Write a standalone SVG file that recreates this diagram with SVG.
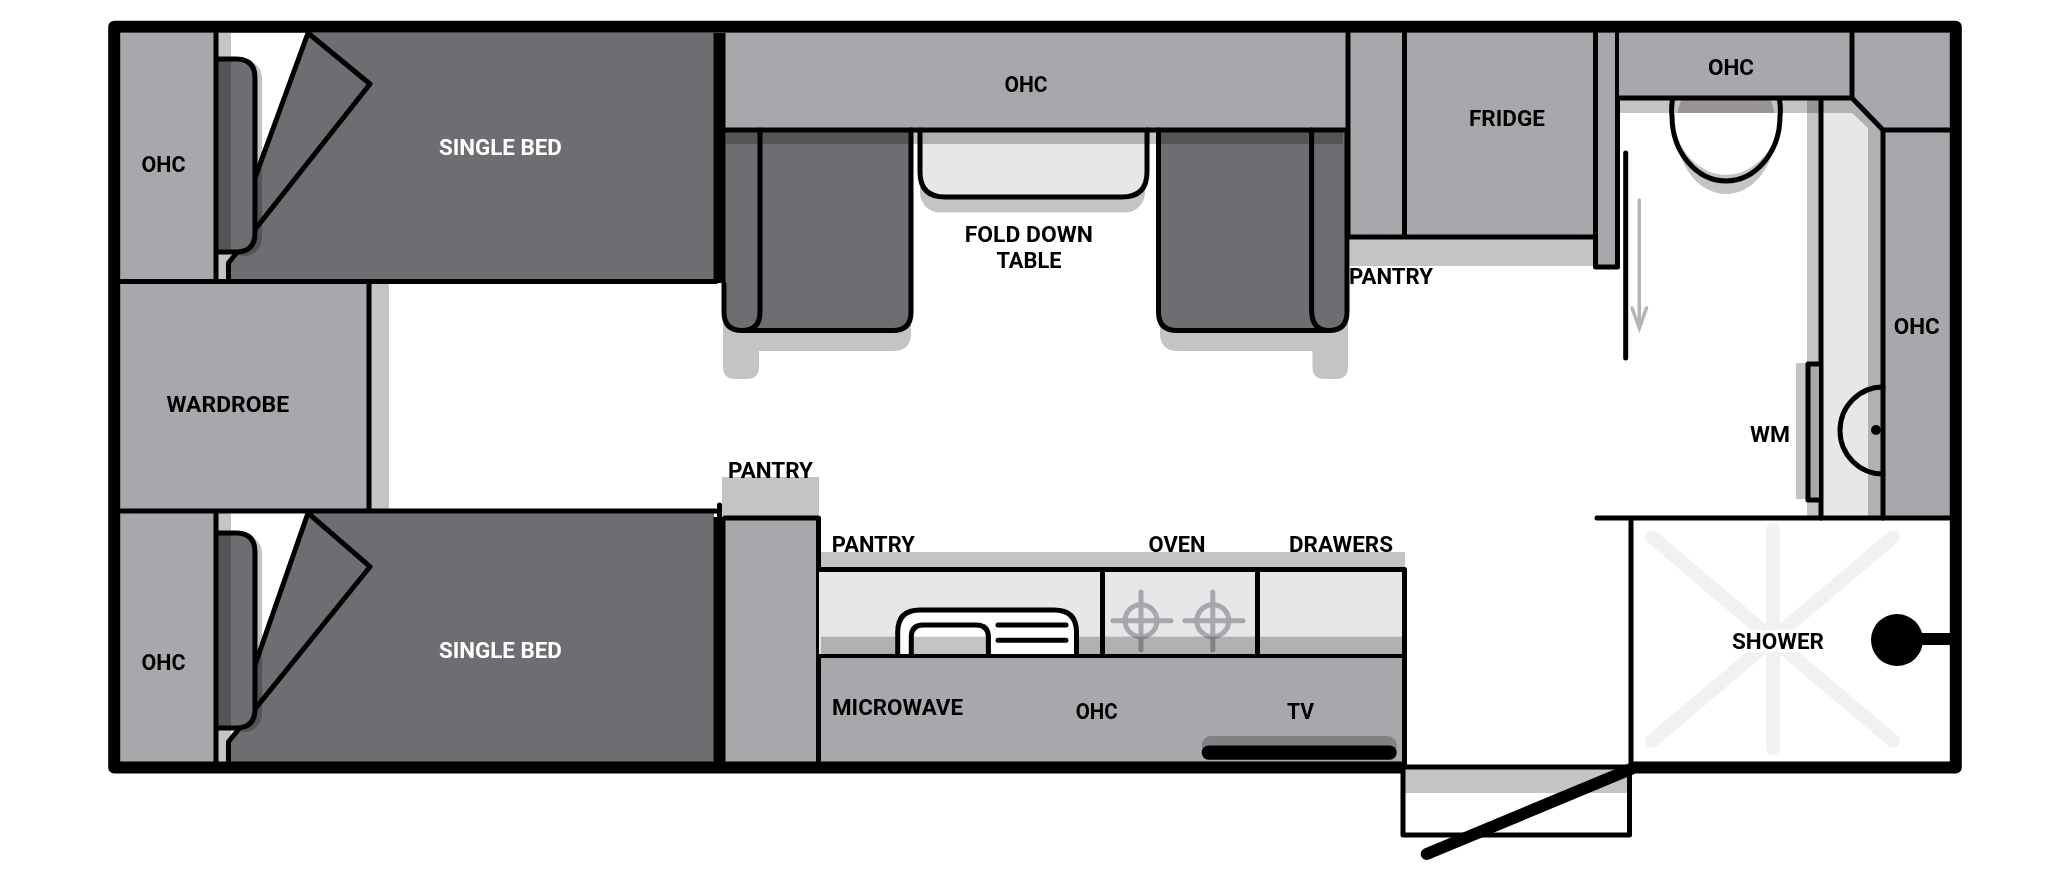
<svg xmlns="http://www.w3.org/2000/svg" width="2048" height="871" viewBox="0 0 2048 871">
<style>
.ohc{fill:#a7a8ac}.dark{fill:#6d6e71}.light{fill:#e6e7e9}.sh{fill:#c6c3c3}
.mul{fill:#c6c3c3;mix-blend-mode:multiply}
.ln{fill:none;stroke:#000;stroke-width:5;stroke-linejoin:round;stroke-linecap:round}
.burner{fill:none;stroke:#a7a8ac;stroke-width:5;stroke-linecap:round}
.wall{fill:none;stroke:#000;stroke-width:12;stroke-linejoin:round}
text{font-family:"Roboto","Liberation Sans",sans-serif;font-weight:700;font-size:22.5px;text-anchor:middle;fill:#000}
text.w{fill:#fff}
</style>
<rect width="2048" height="871" fill="#fff"/>

<g id="floor-shadows">
<rect class="sh" x="218" y="33" width="13" height="246"/>
<rect class="sh" x="218" y="513" width="13" height="249"/>
<rect class="sh" x="371" y="284" width="18" height="226"/>
<path class="sh" d="M723 300H911V333Q911 351 893 351H759V367Q759 379 747 379H735Q723 379 723 367Z"/>
<path class="sh" d="M1160 300H1348V367Q1348 379 1336 379H1324Q1312.500 379 1312.500 367V351H1178Q1160 351 1160 333Z"/>
<rect class="sh" x="920" y="140" width="225" height="72.500" rx="20"/>
<rect class="sh" x="1350" y="238" width="245" height="28"/>
<rect class="sh" x="722" y="477" width="97" height="41"/>
<rect class="sh" x="820" y="552" width="585" height="17"/>
<rect class="sh" x="1405" y="769" width="222" height="24"/>
<rect class="sh" x="1796" y="363" width="11" height="136"/>
<ellipse class="sh" cx="1726" cy="129" rx="50" ry="65"/>
</g>

<g id="bed-top">
<path class="dark" d="M308 33H714V279H228.500V263L255 230V178Z"/>
<path class="dark" d="M308 33L370 84L255 226V170Z"/>
<path class="ln" d="M308 33L255 178M308 33L370 84L228.500 263V279"/>
<rect class="mul" x="225" y="60" width="37" height="196" rx="18"/>
<path class="dark" d="M218 58.900H236Q255 58.900 255 78V233Q255 252 236 252H218Z"/>
<rect class="mul" x="218" y="61" width="13" height="189"/>
<path class="ln" d="M218 58.900H236Q255 58.900 255 78V233Q255 252 236 252H218"/>
<text class="w" x="500.400" y="155" textLength="123" lengthAdjust="spacingAndGlyphs">SINGLE BED</text>
</g>

<g id="bed-bottom">
<path class="dark" d="M308 513H714V763H228.500V742L255 709V665Z"/>
<path class="dark" d="M308 513L370 566.700L255 709V660Z"/>
<path class="ln" d="M308 513L255 665M308 513L370 566.700L228.500 741.700V763"/>
<rect class="mul" x="225" y="535" width="37" height="197" rx="18"/>
<path class="dark" d="M218 533H236Q255 533 255 552V709Q255 728 236 728H218Z"/>
<rect class="mul" x="218" y="535" width="13" height="191"/>
<path class="ln" d="M218 533H236Q255 533 255 552V709Q255 728 236 728H218"/>
<text class="w" x="500.400" y="658" textLength="123" lengthAdjust="spacingAndGlyphs">SINGLE BED</text>
</g>

<g id="ohc-left-top">
<rect class="ohc" x="120" y="33" width="96" height="248"/>
<text x="163.500" y="171.500" textLength="44" lengthAdjust="spacingAndGlyphs">OHC</text>
</g>
<g id="ohc-left-bottom">
<rect class="ohc" x="120" y="511" width="96" height="252"/>
<text x="163.500" y="670" textLength="44" lengthAdjust="spacingAndGlyphs">OHC</text>
</g>
<g id="wardrobe">
<rect class="ohc" x="120" y="281" width="249" height="230"/>
<text x="227.800" y="412" textLength="122.500" lengthAdjust="spacingAndGlyphs">WARDROBE</text>
</g>

<g id="ohc-top">
<rect class="ohc" x="725" y="33" width="623" height="97"/>
<text x="1026" y="92.300" textLength="43" lengthAdjust="spacingAndGlyphs">OHC</text>
</g>
<g id="dinette-left">
<path class="dark" d="M724 130V312Q724 330.500 742 330.500H893Q911 330.500 911 312V130Z"/>
<path class="ln" d="M724 284V312Q724 330.500 742 330.500H893Q911 330.500 911 312V130M760 130V312Q760 330.500 742 330.500"/>
</g>
<g id="dinette-right">
<path class="dark" d="M1158.500 130V312Q1158.500 330.500 1177 330.500H1329Q1347 330.500 1347 312V130Z"/>
<path class="ln" d="M1158.500 130V312Q1158.500 330.500 1177 330.500H1329Q1347 330.500 1347 312V130M1311.600 130V310Q1311.600 330.500 1329 330.500"/>
</g>
<g id="table">
<path class="light" d="M920 130V172Q920 197 945 197H1122Q1147 197 1147 172V130Z"/>
<path class="ln" d="M920 130V172Q920 197 945 197H1122Q1147 197 1147 172V130"/>
<text x="1028.800" y="241.700" textLength="128" lengthAdjust="spacingAndGlyphs">FOLD DOWN</text>
<text x="1029" y="268" textLength="65" lengthAdjust="spacingAndGlyphs">TABLE</text>
</g>
<rect class="mul" x="726" y="132" width="617" height="12"/>
<line class="ln" x1="724" y1="130" x2="1348" y2="130"/>

<g id="fridge">
<rect class="ohc" x="1350" y="33" width="245" height="204"/>
<path class="ln" d="M1348 33V237H1595M1404.500 33V237"/>
<text x="1507" y="125.500" textLength="76" lengthAdjust="spacingAndGlyphs">FRIDGE</text>
</g>
<g id="pantry-fridge"><text x="1391" y="283.500" textLength="84" lengthAdjust="spacingAndGlyphs">PANTRY</text></g>
<g id="pillar">
<rect class="ohc" x="1595" y="33" width="22.500" height="234"/>
<path class="ln" d="M1595.500 33V267H1617.500V33"/>
</g>

<g id="corridor">
<path class="light" d="M1821 98H1852L1883 130V518H1821Z"/>
<path class="mul" d="M1619 100H1852L1881 130V516H1868V128L1852 113H1619Z"/>
<rect class="mul" x="1807" y="100" width="12" height="416"/>
</g>
<g id="toilet">
<path d="M1672.500 113V116A54 65 0 0 0 1780 116V113Z" fill="#fff"/>
<path class="ln" d="M1672.500 100Q1671 108 1672 116A54 65 0 0 0 1780 116Q1781 108 1779.500 100"/>
</g>
<g id="ohc-washroom">
<rect class="ohc" x="1619" y="33" width="233" height="65"/>
<path class="ohc" d="M1852 33H1950V130H1883L1852 98Z"/>
<rect class="ohc" x="1883" y="130" width="67" height="386"/>
<path class="ln" d="M1617.500 98H1852L1883 130H1950M1852 33V98M1821 98V518M1883 130V518"/>
<text x="1731" y="75" textLength="46" lengthAdjust="spacingAndGlyphs">OHC</text>
<text x="1916.700" y="333.500" textLength="46" lengthAdjust="spacingAndGlyphs">OHC</text>
</g>
<g id="sliding-door">
<line class="ln" x1="1625.700" y1="153" x2="1625.700" y2="358"/>
<path d="M1639.300 200V328M1632 308L1639.300 328L1646.500 308" fill="none" stroke="#b3b5b8" stroke-width="3.500" stroke-linecap="round"/>
</g>
<g id="wm">
<rect class="ohc" x="1808" y="364" width="11" height="136"/>
<path class="ln" d="M1819 364H1808V500H1819"/>
<text x="1770" y="442" textLength="40" lengthAdjust="spacingAndGlyphs">WM</text>
</g>
<g id="basin">
<path class="ln" d="M1883 387A43 43.500 0 0 0 1883 474"/>
<circle cx="1876" cy="430" r="5"/>
</g>

<g id="pantry-tall">
<rect class="ohc" x="725" y="518" width="94" height="245"/>
<path class="ln" d="M725 518H818.500V763"/>
<text x="770.500" y="478" textLength="85" lengthAdjust="spacingAndGlyphs">PANTRY</text>
</g>

<g id="kitchen">
<rect class="light" x="819" y="569" width="586" height="87"/>
<g class="burner">
<ellipse cx="1141" cy="620.700" rx="16" ry="16"/><path d="M1113 620.700H1171M1141 592V650"/>
<ellipse cx="1212.800" cy="620.700" rx="16" ry="16"/><path d="M1185 620.700H1243M1212.800 592V650"/>
</g>
<rect class="mul" x="821" y="636.700" width="582" height="18"/>
<path d="M897.700 656V632Q897.700 610 920 610H1054Q1076.500 610 1076.500 632V656Z" fill="#fff"/>
<path class="sh" d="M911.300 636.700H988.400V656H911.300Z"/>
<path class="ln" d="M897.700 656V632Q897.700 610 920 610H1054Q1076.500 610 1076.500 632V656M911.300 656V637Q911.300 625 923 625H976Q988.400 625 988.400 637V656M998 625H1066M998 640.300H1066"/>
<path class="ln" d="M818.500 569.500H1404.500V767M1102.500 569.500V656M1257.500 569.500V656M818.500 656.500H1404.500"/>
<text x="873.300" y="551.700" textLength="83" lengthAdjust="spacingAndGlyphs">PANTRY</text>
<text x="1177" y="551.700" textLength="57" lengthAdjust="spacingAndGlyphs">OVEN</text>
<text x="1341" y="551.700" textLength="104" lengthAdjust="spacingAndGlyphs">DRAWERS</text>
</g>
<g id="ohc-kitchen">
<rect class="ohc" x="821" y="658" width="581" height="105"/>
<rect class="mul" x="1201.700" y="736" width="195" height="20" rx="9"/>
<rect x="1201.700" y="745.500" width="195" height="14.300" rx="7"/>
<text x="897.500" y="715" textLength="131" lengthAdjust="spacingAndGlyphs">MICROWAVE</text>
<text x="1096.700" y="718.500" textLength="42" lengthAdjust="spacingAndGlyphs">OHC</text>
<text x="1300.600" y="718.500" textLength="27" lengthAdjust="spacingAndGlyphs">TV</text>
</g>

<g id="shower">
<path d="M1773 530V748M1652 537L1893 741M1893 537L1652 741" fill="none" stroke="#f1f1f1" stroke-width="14" stroke-linecap="round"/>
<circle cx="1897" cy="640" r="26"/>
<rect x="1897" y="633" width="53" height="12"/>
<text x="1778" y="649" textLength="92" lengthAdjust="spacingAndGlyphs" stroke="#fff" stroke-width="7" stroke-linejoin="round" style="paint-order:stroke">SHOWER</text>
<path class="ln" d="M1597 518H1950M1631 518V767"/>
</g>

<g id="entry">
<path class="ln" d="M1403 767V835H1629.500V767M1403 767H1631"/>
<line x1="1426.700" y1="854" x2="1631" y2="769" stroke="#000" stroke-width="12" stroke-linecap="round"/>
</g>

<g id="walls">
<path class="wall" d="M1631 767.500H1955.800V26.700H114.200V767.500H1405"/>
<path class="ln" d="M120 281.500H716M120 511H716M369 281.500V511M216 33V281.500M216 511V763M719.500 505V520"/>
<path d="M719.500 33V283M719.500 517V763" fill="none" stroke="#000" stroke-width="12"/>
</g>
</svg>
